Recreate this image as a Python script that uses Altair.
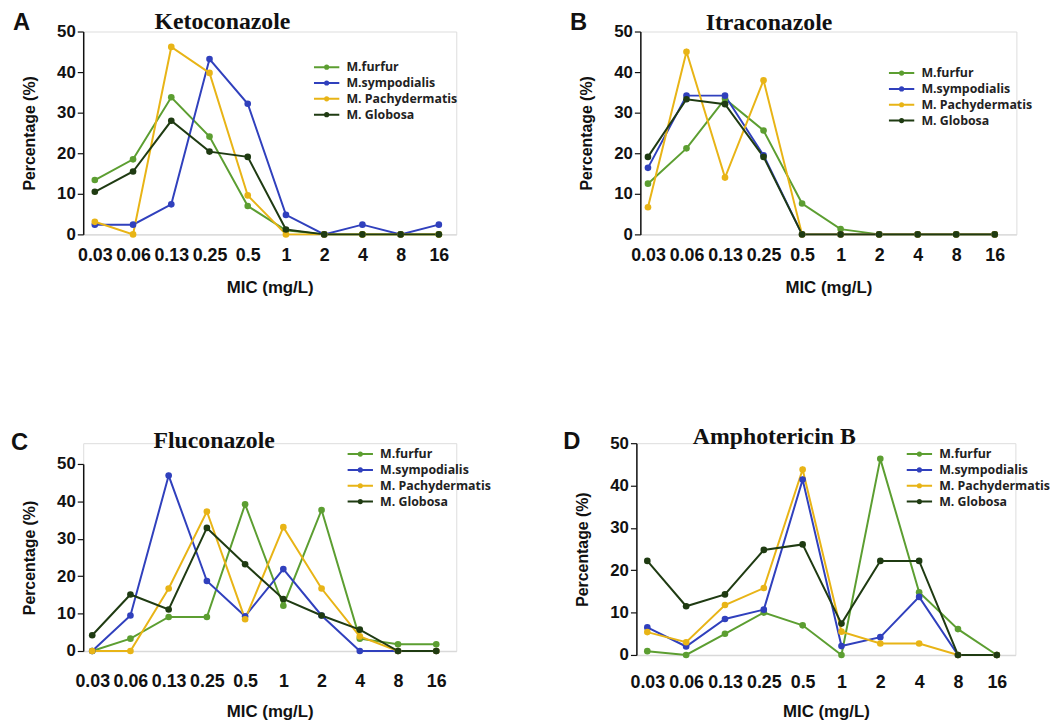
import altair as alt
import pandas as pd

mic = ["0.03", "0.06", "0.13", "0.25", "0.5", "1", "2", "4", "8", "16"]
species = ["M.furfur", "M.sympodialis", "M. Pachydermatis", "M. Globosa"]
colors = ["#5c9e31", "#3040bd", "#e8b416", "#1f3b12"]

# Ketoconazole
keto_furfur = [13.4, 18.5, 33.8, 24.1, 7.0, 1.0, 0, 0, 0, 0]
keto_sympodialis = [2.4, 2.4, 7.4, 43.2, 32.2, 4.8, 0, 2.4, 0, 2.4]
keto_pachydermatis = [3.1, 0, 46.2, 39.8, 9.6, 0, 0, 0, 0, 0]
keto_globosa = [10.5, 15.5, 28.0, 20.4, 19.1, 1.2, 0, 0, 0, 0]

# Itraconazole
itra_furfur = [12.5, 21.2, 33.4, 25.6, 7.6, 1.3, 0, 0, 0, 0]
itra_sympodialis = [16.4, 34.2, 34.2, 19.5, 0, 0, 0, 0, 0, 0]
itra_pachydermatis = [6.7, 45.0, 14.0, 38.0, 0, 0, 0, 0, 0, 0]
itra_globosa = [19.1, 33.3, 32.1, 19.1, 0, 0, 0, 0, 0, 0]

# Fluconazole
flu_furfur = [0, 3.3, 9.1, 9.1, 39.2, 12.1, 37.7, 3.3, 1.8, 1.8]
flu_sympodialis = [0, 9.5, 46.9, 18.7, 9.3, 21.9, 9.5, 0, 0, 0]
flu_pachydermatis = [0, 0, 16.7, 37.3, 8.5, 33.1, 16.7, 3.9, 0, 0]
flu_globosa = [4.2, 15.1, 11.1, 32.9, 23.2, 13.9, 9.5, 5.7, 0, 0]

# Amphotericin B
amb_furfur = [0.9, 0, 5.0, 10.0, 7.0, 0, 46.3, 14.8, 6.1, 0]
amb_sympodialis = [6.5, 2.0, 8.5, 10.7, 41.4, 2.1, 4.2, 13.7, 0, 0]
amb_pachydermatis = [5.4, 3.0, 11.8, 15.8, 43.8, 5.5, 2.7, 2.7, 0, 0]
amb_globosa = [22.2, 11.5, 14.3, 24.8, 26.1, 7.4, 22.2, 22.2, 0, 0]


def to_df(series_lists):
    rows = []
    for sp, vals in zip(species, series_lists):
        for i, (m, v) in enumerate(zip(mic, vals)):
            rows.append({"mic": m, "idx": i, "species": sp, "pct": v})
    return pd.DataFrame(rows)


SANS = "Liberation Sans"
LEG_SYMBOL = "M-1.6,0H1.6M-0.2,0A0.2,0.2 0 1,0 0.2,0A0.2,0.2 0 1,0 -0.2,0"


def panel(series_lists, letter, drug, w, h, leg_x, leg_y, t_x, t_y, l_x, l_y,
          align, label_pad, title_pad, y_top=0):
    df = to_df(series_lists)
    if y_top:
        yscale = alt.Scale(domain=[0, 50], nice=False, range=[h, y_top])
    else:
        yscale = alt.Scale(domain=[0, 50], nice=False)
    lines = alt.Chart(df).mark_line(
        strokeWidth=2,
        point=alt.OverlayMarkDef(filled=True, size=45, opacity=1),
    ).encode(
        x=alt.X("mic:O", sort=mic,
                scale=alt.Scale(type="point", padding=0.38, align=align),
                axis=alt.Axis(title="MIC (mg/L)", labelAngle=0, ticks=False,
                              domainColor="#d9d9d9", domainWidth=1.5, grid=False,
                              labelFont=SANS, labelFontWeight="bold", labelFontSize=18,
                              labelColor="#111111", labelPadding=label_pad,
                              titleFont=SANS, titleFontWeight="bold", titleFontSize=17,
                              titleColor="#111111", titlePadding=title_pad)),
        y=alt.Y("pct:Q", scale=yscale,
                axis=alt.Axis(title="Percentage (%)", values=[0, 10, 20, 30, 40, 50],
                              domainColor="#111111", domainWidth=1.5, grid=False,
                              tickColor="#111111", tickSize=6, tickWidth=1.2,
                              labelFont=SANS, labelFontWeight="bold", labelFontSize=17,
                              labelColor="#111111", labelPadding=2,
                              titleFont=SANS, titleFontWeight="bold", titleFontSize=16,
                              titleColor="#111111", titlePadding=19)),
        color=alt.Color("species:N", sort=species,
                        scale=alt.Scale(domain=species, range=colors),
                        legend=alt.Legend(title=None, orient="none", legendX=leg_x, legendY=leg_y,
                                          symbolType=LEG_SYMBOL, symbolSize=256,
                                          symbolStrokeWidth=2, labelFont="Open Sans",
                                          labelFontWeight="bold", labelFontSize=12.5,
                                          labelColor="#222222", labelOffset=11,
                                          rowPadding=0)),
        order=alt.Order("idx:Q"),
    )
    title_txt = alt.Chart(pd.DataFrame({"t": [drug]})).mark_text(
        font="Liberation Serif", fontWeight="bold", fontSize=24, align="left",
        baseline="alphabetic", color="#111111"
    ).encode(x=alt.value(t_x), y=alt.value(t_y), text="t:N")
    letter_txt = alt.Chart(pd.DataFrame({"t": [letter]})).mark_text(
        font=SANS, fontWeight="bold", fontSize=24, align="left",
        baseline="alphabetic", color="#111111"
    ).encode(x=alt.value(l_x), y=alt.value(l_y), text="t:N")
    return alt.layer(lines, title_txt, letter_txt).properties(width=w, height=h)


pA = panel([keto_furfur, keto_sympodialis, keto_pachydermatis, keto_globosa],
           "A", "Ketoconazole", 377, 205, 237, 27, 72, -3, -71, -2, 0.4, 12, 16)
pB = panel([itra_furfur, itra_sympodialis, itra_pachydermatis, itra_globosa],
           "B", "Itraconazole", 380, 205, 255, 33, 66, -2, -71, -2, 0.26, 12, 16)
pC = panel([flu_furfur, flu_sympodialis, flu_pachydermatis, flu_globosa],
           "C", "Fluconazole", 377, 210, 271, 2, 71, 5, -73, 7, 0.31, 22, 13,
           y_top=21)
pD = panel([amb_furfur, amb_sympodialis, amb_pachydermatis, amb_globosa],
           "D", "Amphotericin B", 383, 214, 277, 2, 57, 1, -74, 6, 0.37, 19, 12)

row1 = alt.hconcat(pA, pB, spacing=112).resolve_scale(color="independent").resolve_legend(color="independent")
row2 = alt.hconcat(pC, pD, spacing=71).resolve_scale(color="independent").resolve_legend(color="independent")

chart = alt.vconcat(row1, row2, spacing=129).resolve_scale(
    color="independent").resolve_legend(color="independent").properties(
    padding={"left": 2, "top": -3, "right": 2, "bottom": 0}
).configure_view(stroke=None).configure(background="white")

chart.save("out.html", embed_options={"renderer": "svg", "actions": False})
